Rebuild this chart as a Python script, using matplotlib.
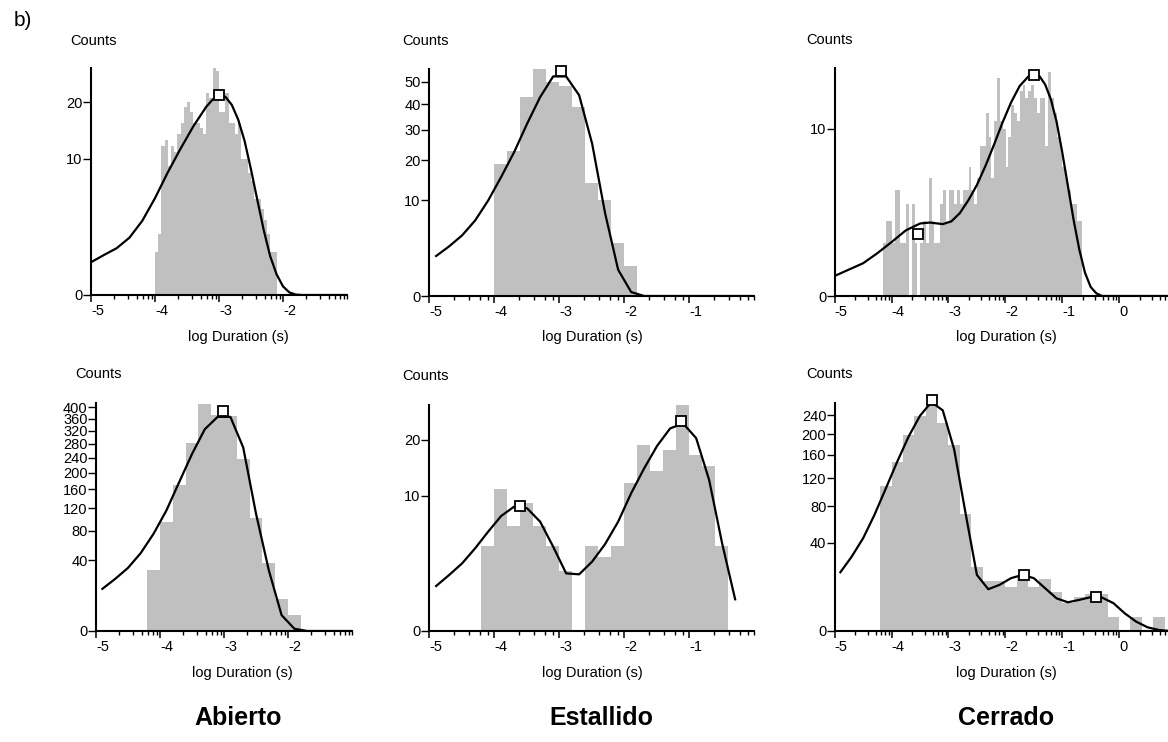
import numpy as np
import matplotlib
matplotlib.use('Agg')
import matplotlib.pyplot as plt
import matplotlib.transforms as mtrans
from matplotlib.ticker import FixedLocator, NullFormatter

plt.rcParams['font.family'] = ['Liberation Sans', 'DejaVu Sans']
plt.rcParams['axes.unicode_minus'] = False

# ---------------- data ----------------
# Panel A1 (Abierto, top)
a1_start, a1_width = -4.0, 0.05
a1_counts = [1, 2, 12, 13, 9, 12, 11, 14, 16, 19, 20, 18, 16, 16, 15, 14, 22, 21, 28,
             27, 18, 18, 22, 16, 16, 14, 16, 10, 10, 8, 7, 5, 5, 4, 3, 2, 1, 1]
a1_curve_x = [-5.0, -4.8, -4.6, -4.4, -4.2, -4.0, -3.8, -3.6, -3.4, -3.2, -3.1, -3.0,
              -2.9, -2.8, -2.7, -2.6, -2.5, -2.4, -2.3, -2.2, -2.1, -2.0, -1.9, -1.8,
              -1.7, -1.0]
a1_curve_y = [0.58, 0.86, 1.18, 1.77, 2.96, 5.06, 8.12, 11.56, 15.37, 19.1, 20.6, 21.5,
              21.2, 19.5, 16.6, 12.8, 8.5, 4.84, 2.25, 0.81, 0.23, 0.04, 0.0036, 0.0001,
              0.0, 0.0]
a1_peaks_x = [-3.0]
a1_peaks_y = [21.6]

# Panel E1 (Estallido, top)
e1_start, e1_width = -4.0, 0.2
e1_counts = [19, 23, 43, 56, 50, 48, 39, 14, 10, 3, 1]
e1_curve_x = [-4.89, -4.69, -4.49, -4.29, -4.09, -3.89, -3.69, -3.49, -3.29, -3.09,
              -2.89, -2.69, -2.49, -2.29, -2.09, -1.89, -1.69, 0.0]
e1_curve_y = [1.74, 2.68, 4.0, 6.2, 9.9, 15.4, 22.5, 32.3, 43.0, 52.4,
              52.4, 43.8, 25.2, 7.4, 0.75, 0.017, 0.0, 0.0]
e1_peaks_x = [-2.97]
e1_peaks_y = [55.0]

# Panel C1 (Cerrado, top)
c1_start, c1_width = -4.146, 0.05
c1_counts = [1, 2, 2, 1, 4, 4, 1, 1, 3, 0, 3, 1, 0, 1, 2, 1, 5, 2, 1, 1, 3, 4, 2,
             4, 4, 3, 4, 3, 4, 4, 6, 4, 3, 5, 8, 8, 12, 9, 5,
             11, 17, 11, 10, 6, 9, 13, 12, 11, 15, 16, 14, 15, 16, 14, 12, 14, 14, 8,
             18, 14, 12, 9,
             8, 6, 5, 4, 3, 3, 2, 2]
c1_curve_x = [-5.0, -4.75, -4.5, -4.25, -4.0, -3.75, -3.5, -3.33, -3.1, -2.95, -2.8,
              -2.65, -2.5, -2.35, -2.2, -2.05, -1.9, -1.75, -1.6, -1.5, -1.4, -1.3,
              -1.2, -1.1, -1.0, -0.9, -0.8, -0.7, -0.6, -0.5, -0.4, -0.3, 1.0]
c1_curve_y = [0.144, 0.25, 0.384, 0.656, 1.04, 1.54, 1.88, 1.93, 1.85, 1.99, 2.46,
              3.28, 4.41, 6.05, 8.18, 10.76, 13.4, 15.76, 17.2, 17.56, 17.3, 16.0,
              13.84, 10.89, 7.4, 4.33, 2.07, 0.774, 0.194, 0.029, 0.0025, 0.0, 0.0]
c1_peaks_x = [-3.53, -1.50]
c1_peaks_y = [1.37, 17.55]

# Panel A2 (Abierto, bottom)
a2_start, a2_width = -4.2, 0.2
a2_counts = [30, 94, 171, 281, 410, 373, 370, 235, 102, 37, 8, 2]
a2_curve_x = [-4.9, -4.7, -4.5, -4.3, -4.1, -3.9, -3.7, -3.5, -3.3, -3.1, -2.9,
              -2.7, -2.5, -2.3, -2.1, -1.9, -1.7, -1.0]
a2_curve_y = [14.2, 21.7, 31.8, 48.6, 75.6, 116, 177, 250, 325, 366, 366,
              269, 110, 29.5, 2.0, 0.04, 0.0, 0.0]
a2_peaks_x = [-3.02]
a2_peaks_y = [385]

# Panel E2 (Estallido, bottom)
e2_start, e2_width = -4.2, 0.2
e2_counts = [4, 11, 6, 9, 6, 4, 2, 0, 4, 3, 4, 12, 19, 14, 18, 28, 17, 15, 4]
e2_curve_x = [-4.89, -4.69, -4.49, -4.29, -4.09, -3.89, -3.69, -3.49, -3.29, -3.09,
              -2.89, -2.69, -2.49, -2.29, -2.09, -1.89, -1.69, -1.49, -1.29, -1.09,
              -0.89, -0.69, -0.49, -0.29]
e2_curve_y = [1.11, 1.72, 2.51, 3.75, 5.41, 7.25, 8.48, 8.25, 6.55, 3.9,
              1.82, 1.76, 2.64, 4.15, 6.55, 10.4, 14.5, 18.8, 22.5, 23.6,
              20.4, 12.5, 4.2, 0.55]
e2_peaks_x = [-3.6, -1.12]
e2_peaks_y = [8.5, 24.2]

# Panel C2 (Cerrado, bottom)
c2_start, c2_width = -4.2, 0.2
c2_counts = [109, 147, 199, 238, 268, 222, 179, 70, 21, 13, 13, 10, 16, 10, 14, 8,
             4, 6, 7, 7, 1, 0, 1, 0, 1]
c2_curve_x = [-4.9, -4.7, -4.5, -4.3, -4.1, -3.9, -3.7, -3.5, -3.3, -3.1, -2.9,
              -2.7, -2.5, -2.3, -2.1, -1.9, -1.7, -1.5, -1.3, -1.1, -0.9, -0.7,
              -0.5, -0.3, -0.1, 0.1, 0.3, 0.5, 0.7, 0.9]
c2_curve_y = [17.8, 28.6, 44.4, 69.7, 105, 148, 195, 239, 270, 251, 170,
              71.7, 16.2, 9.0, 11.0, 14.4, 16.2, 14.4, 9.4, 5.5, 4.25, 5.0,
              5.9, 5.75, 4.0, 1.6, 0.45, 0.07, 0.005, 0.0]
c2_peaks_x = [-3.29, -1.67, -0.40]
c2_peaks_y = [274, 16.2, 5.9]

# minor tick offsets within each unit of the log axis
minor_six = [0.36, 0.58, 0.72, 0.81, 0.89, 0.95]
minor_four = [0.39, 0.615, 0.78, 0.90]

# ---------------- figure ----------------
W, H = 1168, 742
fig = plt.figure(figsize=(W / 100, H / 100), dpi=100)

BAR = '#c0c0c0'
FS = 10.5
up = mtrans.ScaledTranslation(0, 3 / 100, fig.dpi_scale_trans)


def fwd(y):
    return np.sqrt(np.clip(y, 0, None))


def inv(y):
    return np.square(y)


def add_panel(left, top, right, bottom, xlim, ylim, yticks, start, width, counts,
              cx, cy, px, py, xmajor, minor_offsets, counts_xy, xlabel_xy):
    ax = fig.add_axes([left / W, 1 - bottom / H, (right - left) / W, (bottom - top) / H])
    ax.set_yscale('function', functions=(fwd, inv))
    lefts = start + width * np.arange(len(counts))
    ax.bar(lefts, counts, width=width, align='edge', color=BAR, linewidth=0, zorder=1)
    ax.plot(cx, cy, color='black', lw=1.6, zorder=3)
    ax.plot(px, py, linestyle='none', marker='s', markersize=6.5, mfc='white',
            mec='black', mew=1.3, zorder=4, clip_on=False)
    ax.set_xlim(*xlim)
    ax.set_ylim(*ylim)
    for s in ['top', 'right']:
        ax.spines[s].set_visible(False)
    for s in ['left', 'bottom']:
        ax.spines[s].set_linewidth(1.5)
    ax.xaxis.set_major_locator(FixedLocator(xmajor))
    minors = []
    for m in range(int(xlim[0]), int(np.ceil(xlim[1])) + 1):
        for off in minor_offsets:
            if xlim[0] < m + off <= xlim[1]:
                minors.append(m + off)
    minors.append(xlim[1])
    ax.xaxis.set_minor_locator(FixedLocator(minors))
    ax.xaxis.set_minor_formatter(NullFormatter())
    ax.set_xticklabels([str(v) for v in xmajor])
    for lab in ax.get_xticklabels():
        lab.set_horizontalalignment('left')
    ax.yaxis.set_major_locator(FixedLocator(yticks))
    ax.set_yticklabels([str(v) for v in yticks])
    for lab in ax.get_yticklabels():
        lab.set_transform(lab.get_transform() + up)
    ax.yaxis.set_minor_locator(FixedLocator([]))
    ax.tick_params(axis='x', which='major', length=4.8, width=1.1, direction='out',
                   labelsize=FS, pad=2)
    ax.tick_params(axis='x', which='minor', length=2.6, width=1.0, direction='out')
    ax.tick_params(axis='y', which='major', length=5.5, width=1.0, direction='out',
                   labelsize=FS, pad=0.5)
    fig.text(counts_xy[0] / W, 1 - counts_xy[1] / H, 'Counts', fontsize=FS,
             ha='left', va='center')
    fig.text(xlabel_xy[0] / W, 1 - xlabel_xy[1] / H, 'log Duration (s)', fontsize=FS,
             ha='center', va='center')
    return ax


add_panel(91, 68, 347, 295, (-5, -1), (0, 27.8), [0, 10, 20],
          a1_start, a1_width, a1_counts, a1_curve_x, a1_curve_y, a1_peaks_x, a1_peaks_y,
          [-5, -4, -3, -2], minor_six, (70, 41), (238, 337))
add_panel(429, 69, 754, 296, (-5, 0), (0, 56), [0, 10, 20, 30, 40, 50],
          e1_start, e1_width, e1_counts, e1_curve_x, e1_curve_y, e1_peaks_x, e1_peaks_y,
          [-5, -4, -3, -2, -1], minor_four, (402, 41), (592, 337))
add_panel(834.7, 68, 1176, 296, (-5, 1), (0, 18.6), [0, 10],
          c1_start, c1_width, c1_counts, c1_curve_x, c1_curve_y, c1_peaks_x, c1_peaks_y,
          [-5, -4, -3, -2, -1, 0], minor_six, (806, 40), (1006, 337))
add_panel(96, 403, 352, 631, (-5, -1), (0, 415), list(range(0, 401, 40)),
          a2_start, a2_width, a2_counts, a2_curve_x, a2_curve_y, a2_peaks_x, a2_peaks_y,
          [-5, -4, -3, -2], minor_six, (75, 374), (242, 673))
add_panel(429, 405, 754, 631, (-5, 0), (0, 28), [0, 10, 20],
          e2_start, e2_width, e2_counts, e2_curve_x, e2_curve_y, e2_peaks_x, e2_peaks_y,
          [-5, -4, -3, -2, -1], minor_four, (402, 376), (592, 673))
add_panel(834.7, 403, 1176, 631, (-5, 1), (0, 268), [0, 40, 80, 120, 160, 200, 240],
          c2_start, c2_width, c2_counts, c2_curve_x, c2_curve_y, c2_peaks_x, c2_peaks_y,
          [-5, -4, -3, -2, -1, 0], minor_six, (806, 374), (1006, 673))

fig.text(14 / W, 1 - 20 / H, 'b)', fontsize=15, ha='left', va='center')
for label, xc in [('Abierto', 238), ('Estallido', 601), ('Cerrado', 1006)]:
    fig.text(xc / W, 1 - 718 / H, label, fontsize=18, fontweight='bold',
             ha='center', va='center')

fig.savefig('out.png', dpi=100)
